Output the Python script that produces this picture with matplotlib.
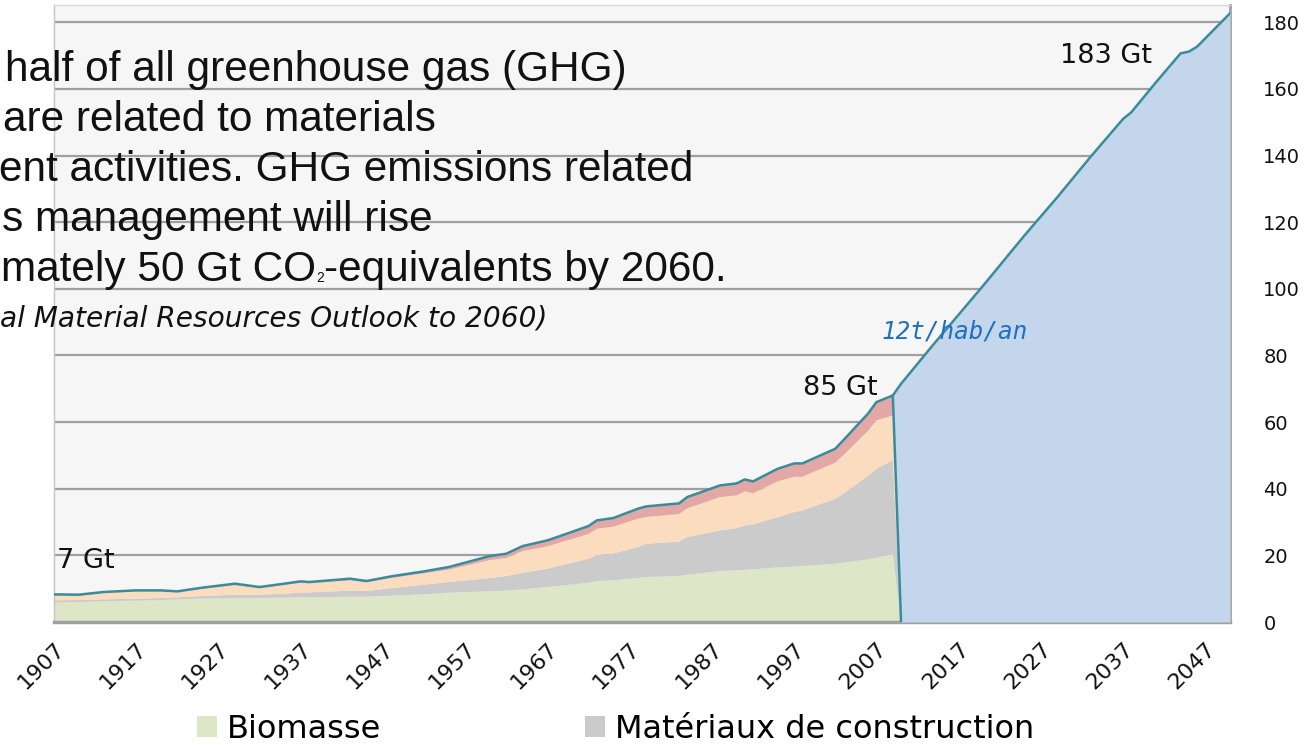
import numpy as np
import matplotlib
matplotlib.use('Agg')
import matplotlib.pyplot as plt
from matplotlib.patches import Patch
from matplotlib.transforms import offset_copy

# ---------------- data (Gt) ----------------
hist_years = [1907, 1910, 1913, 1917, 1920, 1922, 1925, 1929, 1932, 1935, 1937, 1938,
              1943, 1945, 1948, 1952, 1955, 1960, 1962, 1964, 1967, 1969, 1972, 1973,
              1975, 1978, 1979, 1983, 1984, 1988, 1990, 1991, 1992, 1995, 1997, 1998,
              2002, 2003, 2006, 2007, 2009, 2010]
biomasse = [5.8, 6.0, 6.2, 6.4, 6.6, 6.8, 7.0, 7.2, 7.2, 7.3, 7.4, 7.4,
            7.6, 7.6, 7.9, 8.3, 8.8, 9.2, 9.4, 9.8, 10.5, 11.0, 11.8, 12.3,
            12.5, 13.2, 13.5, 13.8, 14.2, 15.3, 15.5, 15.6, 15.8, 16.4, 16.6, 16.8,
            17.5, 17.8, 18.8, 19.3, 20.5, 0]
construction = [0.7, 0.6, 0.6, 0.6, 0.6, 0.6, 0.8, 1.0, 1.0, 1.2, 1.4, 1.5,
                1.8, 1.7, 2.3, 2.9, 3.2, 4.0, 4.4, 5.0, 5.5, 6.2, 7.2, 7.7,
                8.1, 9.3, 10.0, 10.3, 11.3, 12.2, 12.7, 13.4, 13.5, 15.1, 16.4, 16.7,
                19.5, 20.7, 25.2, 26.7, 28.1, 0]
fossiles = [1.5, 1.3, 1.9, 2.2, 2.0, 1.5, 2.15, 2.9, 2.0, 2.65, 3.0, 2.7,
            3.1, 2.6, 3.0, 3.4, 3.7, 5.4, 5.4, 6.5, 6.7, 7.0, 7.4, 8.0,
            8.0, 8.5, 8.0, 8.3, 8.6, 10.0, 9.8, 10.2, 9.3, 10.7, 10.6, 10.1,
            10.8, 11.6, 13.4, 14.5, 13.4, 0]
metaux = [0.3, 0.3, 0.3, 0.3, 0.3, 0.3, 0.35, 0.4, 0.3, 0.35, 0.4, 0.4,
          0.5, 0.4, 0.5, 0.6, 0.8, 1.2, 1.3, 1.5, 1.8, 2.0, 2.4, 2.5,
          2.6, 3.0, 3.2, 3.2, 3.4, 3.5, 3.6, 3.6, 3.6, 3.8, 4.0, 4.0,
          4.2, 4.5, 5.2, 5.5, 6.0, 0]
proj_years = [2009, 2010, 2014, 2020, 2025, 2029, 2033, 2037, 2038, 2041, 2044, 2045, 2046, 2050]
projection = [0, 71.5, 83.5, 101, 116, 127.5, 139.5, 151, 153, 162, 170.7, 171.2, 172.7, 182.7]

y_ticks = list(range(0, 181, 20))
x_tick_years = list(range(1907, 2048, 10))
legend_labels = ['Biomasse', 'Matériaux de construction']

text_lines = ['half of all greenhouse gas (GHG)',
              'are related to materials',
              'ent activities. GHG emissions related',
              's management will rise']
last_line = ['mately 50 Gt CO', '2', '-equivalents by 2060.']
source_line = 'al Material Resources Outlook to 2060)'

# ---------------- style ----------------
c_green = '#dde6c7'
c_grey = '#cbcbcb'
c_orange = '#fbdcbf'
c_pink = '#e2a8a6'
c_blue = '#c3d6eb'
c_teal = '#3a8c9c'
c_txt = '#111111'

W, H = 1307, 745
fig = plt.figure(figsize=(W / 100, H / 100), dpi=100)
ax = fig.add_axes([54 / W, 1 - 622 / H, 1176 / W, 617 / H])
ax.set_facecolor('#f6f6f6')

ax.stackplot(hist_years, biomasse, construction, fossiles, metaux,
             colors=[c_green, c_grey, c_orange, c_pink], linewidth=0, zorder=2)

hist_total = np.sum([biomasse, construction, fossiles, metaux], axis=0)
base = np.interp(proj_years, hist_years, hist_total)
top = base + np.array(projection)
ax.fill_between(proj_years, base, top, color=c_blue, linewidth=0, zorder=3)

line_x = list(hist_years[:-1]) + list(proj_years[1:])
line_y = list(hist_total[:-1]) + list(top[1:])
ax.plot(line_x, line_y, color=c_teal, lw=1.8, zorder=4, solid_joinstyle='round')
ax.plot(proj_years[:2], [top[0], base[1]], color=c_teal, lw=1.8, zorder=4)

ax.set_xlim(1907, 2050)
ax.set_ylim(0, 185.2)
ax.set_yticks(y_ticks)
ax.yaxis.tick_right()
ax.yaxis.grid(True, color='#a0a0a0', lw=1.6)
ax.set_axisbelow(True)
ax.tick_params(axis='y', length=0, pad=24, labelsize=14, labelcolor=c_txt)
ax.set_xticks(x_tick_years)
ax.set_xticklabels([str(y) for y in x_tick_years], rotation=45, ha='right', va='top',
                   rotation_mode='anchor')
ax.tick_params(axis='x', length=0, pad=12, labelsize=16, labelcolor=c_txt)

ax.spines['left'].set_color('#c4c4c4')
ax.spines['left'].set_linewidth(1)
ax.spines['top'].set_color('#d8d8d8')
ax.spines['top'].set_linewidth(1)
ax.spines['right'].set_color('#a0a0a0')
ax.spines['right'].set_linewidth(2)
ax.spines['bottom'].set_color('#a0a0a0')
ax.spines['bottom'].set_linewidth(2.5)

def ftxt(px, py, s, **kw):
    return fig.text(px / W, 1 - py / H, s, va='baseline', ha='left', **kw)

# value annotations
ftxt(57, 568, '7 Gt', fontsize=19.5, color=c_txt)
ftxt(803, 395, '85 Gt', fontsize=19.5, color=c_txt)
ftxt(1060, 63, '183 Gt', fontsize=19.5, color=c_txt)
ftxt(882, 338, '12t/hab/an', fontsize=17.5, color='#1f70c1',
     family='DejaVu Sans Mono', style='oblique')

# overlaid text block
big = dict(fontsize=30.5, color=c_txt, family='Liberation Sans')
text_x = [5, 3, -1, 2]
text_base = [81.5, 131, 181, 231.5]
for s, x0, b in zip(text_lines, text_x, text_base):
    ftxt(x0, b, s, **big)

renderer = fig.canvas.get_renderer()
t1 = ftxt(1, 281.5, last_line[0], **big)
w1 = t1.get_window_extent(renderer).x1
t2 = fig.text(w1 / W, 1 - 282.5 / H, last_line[1], va='baseline', ha='left',
              fontsize=10, color=c_txt, family='Liberation Sans')
w2 = t2.get_window_extent(renderer).x1
fig.text(w2 / W, 1 - 281.5 / H, last_line[2], va='baseline', ha='left', **big)

ftxt(0, 326, source_line, fontsize=20.2, color=c_txt, style='oblique')

# legend
handles = [Patch(facecolor=c_green, edgecolor='none'), Patch(facecolor=c_grey, edgecolor='none')]
fig.legend(handles, legend_labels, ncol=2, frameon=False, fontsize=23,
           handlelength=0.62, handleheight=0.62, handletextpad=0.3, columnspacing=6.4,
           loc='lower left', bbox_to_anchor=(197 / W, 0.0), borderpad=0, borderaxespad=0)

fig.savefig('out.png', dpi=100, facecolor='white')
